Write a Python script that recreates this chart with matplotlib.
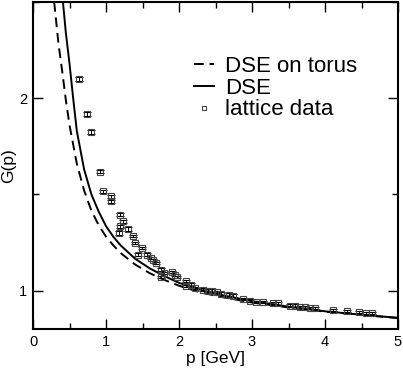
import matplotlib
matplotlib.use("Agg")
import matplotlib.pyplot as plt
from matplotlib.ticker import MultipleLocator

plt.rcParams['font.family'] = ['Liberation Sans', 'DejaVu Sans']

# DSE (solid) curve
dse_p = [0.41, 0.45, 0.5, 0.55, 0.6, 0.7, 0.8, 0.9, 1.0, 1.1, 1.2, 1.4, 1.6, 1.8,
         2.0, 2.3, 2.6, 3.0, 3.5, 4.0, 4.5, 5.0]
dse_G = [2.5, 2.34, 2.18, 2.0, 1.83, 1.63, 1.50, 1.41, 1.335, 1.28, 1.235, 1.165,
         1.115, 1.075, 1.04, 1.003, 0.975, 0.945, 0.916, 0.892, 0.874, 0.858]

# DSE on torus (dashed) curve
torus_p = [0.29, 0.35, 0.4, 0.45, 0.5, 0.6, 0.7, 0.8, 0.9, 1.0, 1.1, 1.2, 1.4, 1.6,
           1.8, 2.0, 2.3, 2.6, 3.0, 3.5, 4.0, 4.5, 5.0]
torus_G = [2.5, 2.28, 2.14, 1.99, 1.86, 1.66, 1.52, 1.415, 1.34, 1.28, 1.235, 1.195,
           1.135, 1.09, 1.055, 1.025, 0.99, 0.965, 0.938, 0.912, 0.89, 0.873, 0.857]

# lattice data
lat_p = [0.63, 0.735, 0.79, 0.918, 0.96, 1.064, 1.064, 1.19, 1.23, 1.19, 1.305, 1.18,
         1.365, 1.40, 1.49, 1.44, 1.56, 1.61, 1.65, 1.69, 1.76, 1.79, 1.76, 1.90,
         1.945, 1.97, 2.10, 2.10, 2.17, 2.22, 2.33, 2.40, 2.45, 2.52, 2.58, 2.68,
         2.74, 2.88, 2.97, 3.06, 3.15, 3.29, 3.36, 3.52, 3.59, 3.66, 3.73, 3.79,
         3.86, 4.11, 4.30, 4.46, 4.56, 4.64]
lat_G = [2.10, 1.917, 1.825, 1.618, 1.515, 1.489, 1.463, 1.394, 1.36, 1.333, 1.32, 1.30,
         1.282, 1.247, 1.221, 1.187, 1.187, 1.169, 1.157, 1.143, 1.109, 1.092, 1.069,
         1.095, 1.08, 1.071, 1.048, 1.022, 1.031, 1.014, 1.005, 1.0, 1.0, 0.991, 0.984,
         0.979, 0.974, 0.957, 0.948, 0.941, 0.939, 0.933, 0.933, 0.922, 0.922, 0.915,
         0.915, 0.91, 0.91, 0.898, 0.893, 0.888, 0.884, 0.884]
lat_err = [0.012, 0.01, 0.01, 0.008, 0.008, 0.008, 0.008, 0.008, 0.008, 0.008, 0.008,
           0.01] + [0.006] * 42

fig = plt.figure(figsize=(4.03, 3.71), dpi=100)
ax = fig.add_axes([33 / 403, (371 - 329) / 371, 365 / 403, 327 / 371])

ax.plot(torus_p, torus_G, color='black', lw=1.4, dashes=(5, 3), label='DSE on torus')
ax.plot(dse_p, dse_G, color='black', lw=1.4, label='DSE')
ax.errorbar(lat_p, lat_G, yerr=lat_err, fmt='s', ms=4.2, mfc='none', mec='#444444',
            mew=0.8, ecolor='black', elinewidth=0.7, capsize=2.8, capthick=0.8,
            label='lattice data')

ax.set_xlim(0, 5)
ax.set_ylim(0.8, 2.5)
ax.xaxis.set_major_locator(MultipleLocator(1))
ax.xaxis.set_minor_locator(MultipleLocator(0.5))
ax.yaxis.set_major_locator(MultipleLocator(1))
ax.yaxis.set_minor_locator(MultipleLocator(0.5))
ax.tick_params(which='both', direction='in', top=True, right=True, width=1.0,
               labelsize=10.5, pad=4)
ax.tick_params(which='major', length=7)
ax.tick_params(which='minor', length=4)
for s in ax.spines.values():
    s.set_linewidth(1.5)

ax.set_xlabel('p [GeV]', fontsize=12.5, labelpad=2)
ax.set_ylabel('G(p)', fontsize=12.5, labelpad=2)

handles, labels = ax.get_legend_handles_labels()
leg = ax.legend(handles=[handles[0], handles[1], handles[2][0]], labels=labels,
                loc='upper left', bbox_to_anchor=(0.44, 0.835), frameon=False,
                fontsize=16, handlelength=0.9, handletextpad=0.5, labelspacing=0.03,
                borderpad=0, borderaxespad=0)
leg.legend_handles[2].set_markersize(3.2)

fig.savefig('out.png', dpi=100)
